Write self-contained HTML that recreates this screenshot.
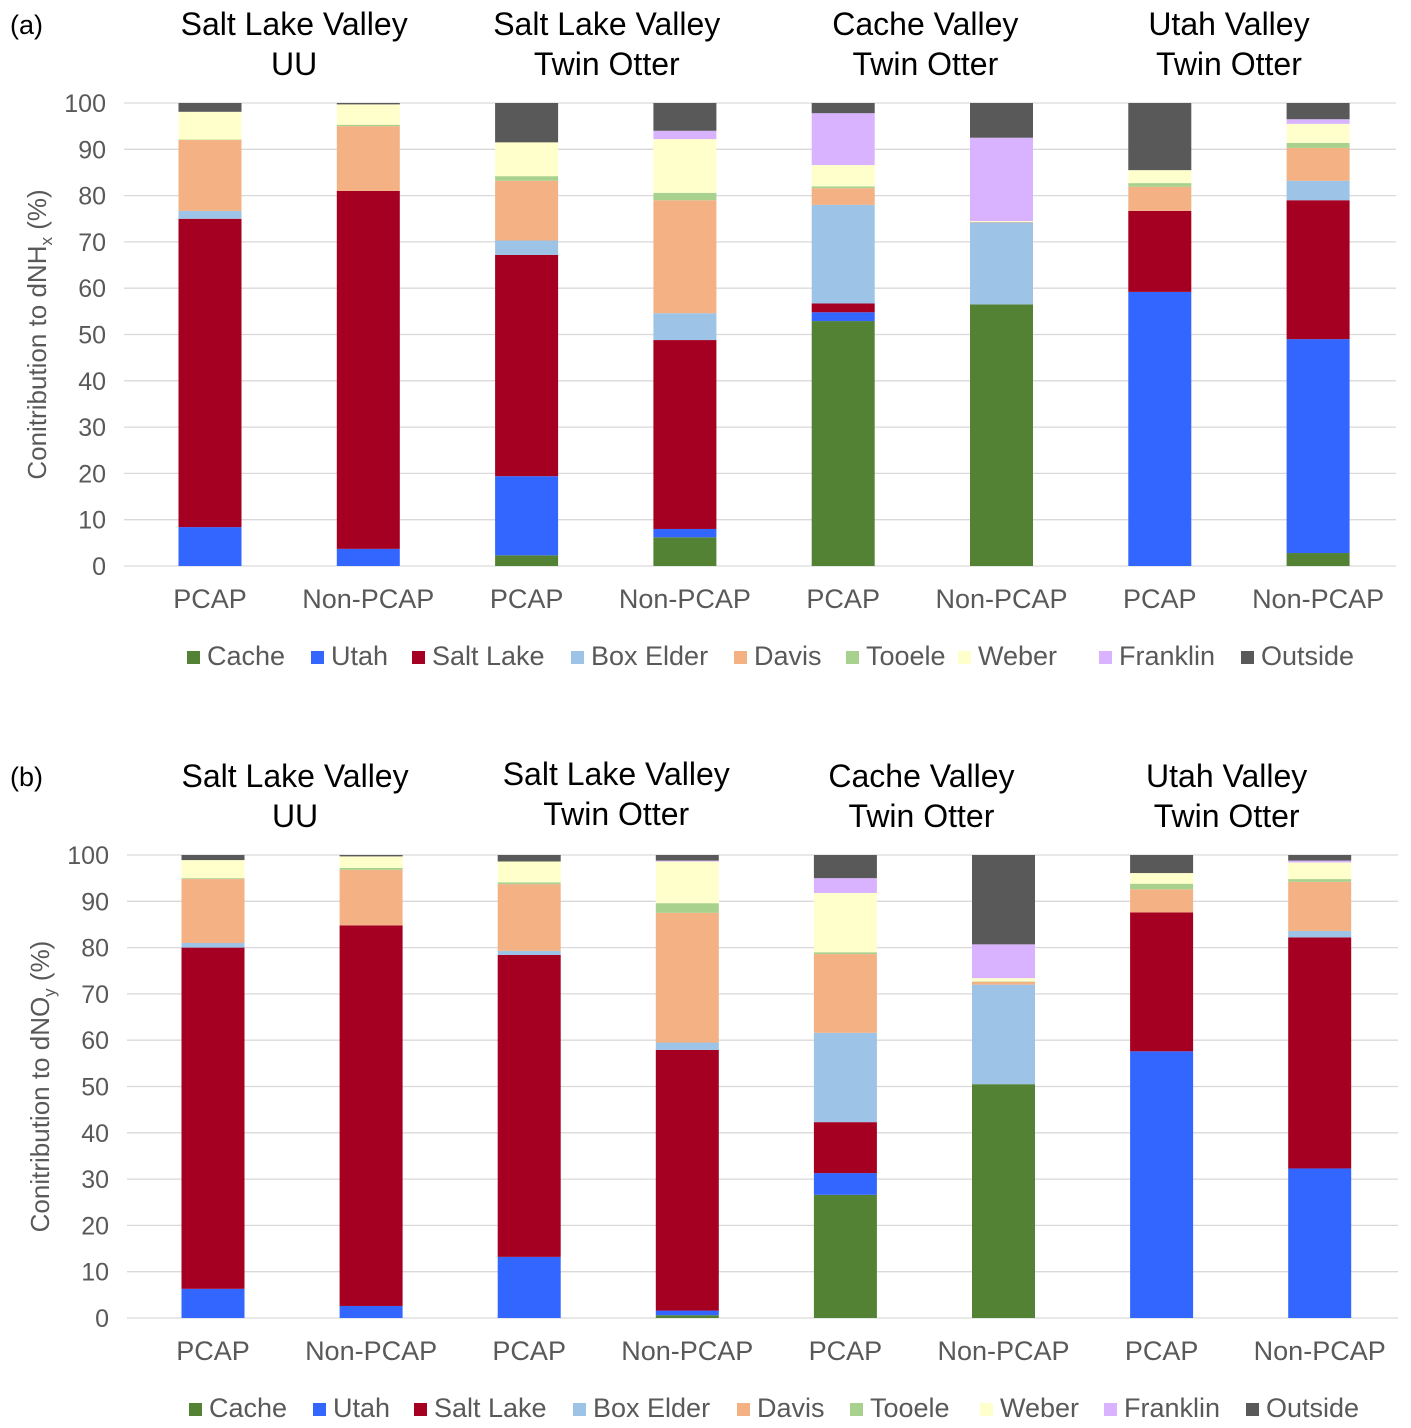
<!DOCTYPE html>
<html><head><meta charset="utf-8">
<style>
html,body{margin:0;padding:0;background:#fff;}
svg{display:block;font-family:"Liberation Sans",Arial,sans-serif;}
</style></head>
<body>
<svg id="chart" width="1411" height="1428" viewBox="0 0 1411 1428" xmlns="http://www.w3.org/2000/svg"></svg>
<script>
const categories = ["PCAP","Non-PCAP","PCAP","Non-PCAP","PCAP","Non-PCAP","PCAP","Non-PCAP"];
const groupTitles = [["Salt Lake Valley","UU"],["Salt Lake Valley","Twin Otter"],["Cache Valley","Twin Otter"],["Utah Valley","Twin Otter"]];
const sources = ["Cache","Utah","Salt Lake","Box Elder","Davis","Tooele","Weber","Franklin","Outside"];
const yTicks = [0,10,20,30,40,50,60,70,80,90,100];
// panel (a) dNHx
const nhxCache     = [0, 0, 2.3, 6.2, 52.9, 56.5, 0, 2.8];
const nhxUtah      = [8.4, 3.7, 17.1, 1.8, 1.9, 0, 59.2, 46.2];
const nhxSaltLake  = [66.6, 77.3, 47.8, 40.8, 1.9, 0, 17.5, 30];
const nhxBoxElder  = [1.7, 0, 3.1, 5.8, 21.3, 17.7, 0, 4.2];
const nhxDavis     = [15.3, 14, 12.9, 24.4, 3.6, 0.1, 5.2, 7.1];
const nhxTooele    = [0.1, 0.3, 1, 1.6, 0.4, 0, 0.8, 1.1];
const nhxWeber     = [6, 4.4, 7.3, 11.6, 4.6, 0.2, 2.8, 4.1];
const nhxFranklin  = [0, 0, 0, 1.8, 11.2, 18, 0, 1];
const nhxOutside   = [1.9, 0.3, 8.5, 6, 2.2, 7.5, 14.5, 3.5];
// panel (b) dNOy
const noyCache     = [0, 0, 0, 0.6, 26.6, 50.5, 0, 0];
const noyUtah      = [6.3, 2.6, 13.2, 1, 4.7, 0, 57.6, 32.3];
const noySaltLake  = [73.7, 82.2, 65.2, 56.3, 11, 0, 30, 49.9];
const noyBoxElder  = [1, 0, 0.9, 1.6, 19.3, 21.5, 0, 1.4];
const noyDavis     = [13.8, 12, 14.4, 28, 17, 0.6, 5, 10.6];
const noyTooele    = [0.2, 0.4, 0.4, 2.1, 0.4, 0.1, 1.2, 0.6];
const noyWeber     = [3.9, 2.5, 4.5, 9, 12.8, 0.7, 2.3, 3.6];
const noyFranklin  = [0, 0, 0, 0.2, 3.2, 7.3, 0, 0.4];
const noyOutside   = [1.1, 0.3, 1.4, 1.2, 5, 19.3, 3.9, 1.2];

const colors = ["#548235","#3366FF","#A50021","#9DC3E6","#F4B183","#A9D18E","#FFFFCC","#D9B3FF","#595959"];
const NS = "http://www.w3.org/2000/svg";
const svg = document.getElementById("chart");
function mk(tag, attrs, parent){const e=document.createElementNS(NS,tag);for(const k in attrs)e.setAttribute(k,attrs[k]);(parent||svg).appendChild(e);return e;}

function panel(cfg){
  const g = mk("g",{});
  
  
  const y = v => cfg.y0 - (v/100)*(cfg.y0-cfg.y100);
  const x = i => cfg.xFirst + i*cfg.step;
  const pl = mk("text",{x:10,y:cfg.labelY,"font-size":27,fill:"#000"},g); pl.textContent=cfg.label;
   
  groupTitles.forEach((t,i)=>{
    const cx = (x(2*i)+x(2*i+1))/2 + cfg.titleDx[i];
    t.forEach((line,j)=>{
      const te = mk("text",{x:cx,y:cfg.titleY[i]+j*40,"font-size":32,"text-anchor":"middle",fill:"#000"},g);
      te.textContent=line;
      
      
    });
  });
  yTicks.forEach(v=>{
    const ln = mk("line",{x1:cfg.left,x2:cfg.right,y1:y(v),y2:y(v),stroke:"#d9d9d9","stroke-width":1.3},g);
    
    
    const t = mk("text",{x:cfg.tickX,y:y(v)+9,"font-size":25,"text-anchor":"end",fill:"#595959"},g);
    t.textContent=v;
    
    
  });
  const at = mk("text",{transform:`translate(${cfg.axisX},${(cfg.y0+cfg.y100)/2}) rotate(-90)`,"font-size":26,"text-anchor":"middle",fill:"#595959"},g);
  at.innerHTML = cfg.axisTitle;
  
  
  categories.forEach((c,i)=>{
    let acc=0;
    cfg.series.forEach((s,k)=>{
      const v=s[i]; if(v<=0) return;
      const r = mk("rect",{x:x(i)-31.5,width:63,y:y(acc+v),height:y(acc)-y(acc+v),fill:colors[k]},g);
      
      
      acc+=v;
    });
    const t = mk("text",{x:x(i),y:cfg.y0+42,"font-size":27,"text-anchor":"middle",fill:"#595959"},g);
    t.textContent=c;
    
    
  });
  sources.forEach((s,k)=>{
    const lx = cfg.legendX[k];
    const r = mk("rect",{x:lx,y:cfg.legendY-13,width:13,height:13,fill:colors[k]},g);
    
    
    const t = mk("text",{x:lx+20,y:cfg.legendY+1,"font-size":27,fill:"#595959"},g);
    t.textContent=s;
    
    
  });
}

panel({name:"panel-a-nhx",label:"(a)",labelY:34,titleY:[35,35,35,35],titleDx:[5,1,3,-10],y0:566,y100:103,left:124,right:1396,tickX:106,xFirst:210,step:158.3,axisX:46,
  axisTitle:'Conitribution to dNH<tspan font-size="17" dy="6">x</tspan><tspan dy="-6">  (%)</tspan>',
  series:[nhxCache,nhxUtah,nhxSaltLake,nhxBoxElder,nhxDavis,nhxTooele,nhxWeber,nhxFranklin,nhxOutside],
  legendY:664,legendX:[187,311,412,571,734,846,958,1099,1241]});
panel({name:"panel-b-noy",label:"(b)",labelY:786,titleY:[787,785,787,787],titleDx:[3,8,-3,-14],y0:1318,y100:855,left:127,right:1398,tickX:109,xFirst:213,step:158.1,axisX:49,
  axisTitle:'Conitribution to dNO<tspan font-size="17" dy="6">y</tspan><tspan dy="-6">  (%)</tspan>',
  series:[noyCache,noyUtah,noySaltLake,noyBoxElder,noyDavis,noyTooele,noyWeber,noyFranklin,noyOutside],
  legendY:1416,legendX:[189,313,414,573,737,850,980,1104,1246]});
</script>
</body></html>
